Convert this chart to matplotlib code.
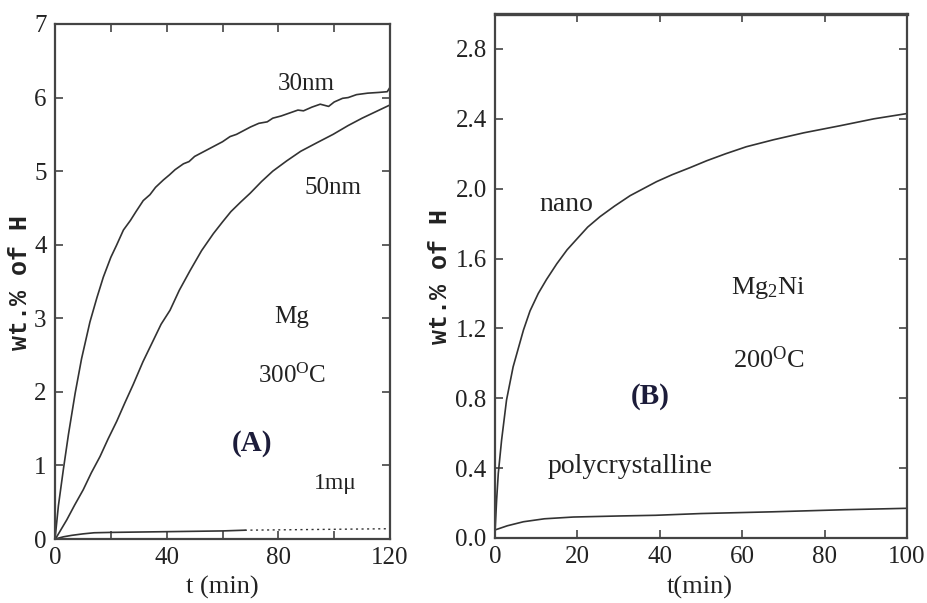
import matplotlib
matplotlib.use("Agg")
import matplotlib.pyplot as plt

plt.rcParams['font.family'] = 'Liberation Serif'
plt.rcParams['mathtext.fontset'] = 'custom'
plt.rcParams['mathtext.rm'] = 'Liberation Serif'
plt.rcParams['mathtext.it'] = 'Liberation Serif:italic'

# panel A: Mg at 300 C
t_30nm = [0, 1.2, 3, 4.8, 7.2, 9.5, 12.5, 15, 17.3, 20, 22, 24.5, 27, 29, 31.6, 34, 36, 38.8,
          41, 43, 46, 48, 50, 53, 55, 58, 60, 62.7, 65, 68, 70, 73, 76, 78, 81, 84, 87, 89,
          92, 95, 98, 100, 103, 105, 108, 112, 116, 119, 120]
wt_30nm = [0, 0.45, 0.95, 1.42, 1.98, 2.45, 2.95, 3.28, 3.56, 3.83, 3.99, 4.2, 4.33, 4.45, 4.6,
           4.68, 4.78, 4.88, 4.95, 5.02, 5.1, 5.13, 5.2, 5.26, 5.3, 5.36, 5.4, 5.47, 5.5, 5.56,
           5.6, 5.65, 5.67, 5.72, 5.75, 5.79, 5.83, 5.82, 5.87, 5.91, 5.88, 5.94, 5.99, 6.0,
           6.04, 6.06, 6.07, 6.08, 6.14]
t_50nm = [0, 0.6, 4.2, 7, 10.1, 13, 16.1, 19, 22.1, 25, 28, 31.5, 35.2, 38, 41.2, 44.5, 48.4,
          52.5, 56.7, 60, 63, 66.5, 69.9, 74, 78, 83, 88, 94, 99.6, 105, 110, 115, 120]
wt_50nm = [0, 0.03, 0.26, 0.46, 0.67, 0.9, 1.12, 1.36, 1.6, 1.85, 2.1, 2.41, 2.7, 2.92, 3.11,
           3.38, 3.65, 3.92, 4.15, 4.31, 4.45, 4.58, 4.7, 4.86, 5.0, 5.14, 5.27, 5.39, 5.5,
           5.62, 5.72, 5.81, 5.9]
t_1mu = [0, 3, 6, 10, 14, 20, 30, 40, 50, 60, 68]
wt_1mu = [0, 0.03, 0.05, 0.07, 0.085, 0.09, 0.095, 0.1, 0.105, 0.11, 0.12]
t_1mu_dot = [68, 120]
wt_1mu_dot = [0.12, 0.14]

# panel B: Mg2Ni at 200 C
t_nano = [0, 0.4, 0.8, 1.6, 2.8, 4.4, 6.9, 8.5, 10.5, 12.5, 15, 17.5, 19.8, 22.5, 25.5, 29,
          32.8, 36, 39.2, 43, 47.3, 51.4, 56, 61, 67.6, 75, 83.7, 92, 100]
wt_nano = [0.03, 0.22, 0.37, 0.56, 0.79, 0.98, 1.19, 1.30, 1.40, 1.48, 1.57, 1.65, 1.71, 1.78,
           1.84, 1.90, 1.96, 2.00, 2.04, 2.08, 2.12, 2.16, 2.20, 2.24, 2.28, 2.32, 2.36, 2.40, 2.43]
t_poly = [0, 3, 6.9, 12, 19, 30, 39, 50, 67.5, 85, 100]
wt_poly = [0.046, 0.07, 0.093, 0.11, 0.12, 0.126, 0.13, 0.14, 0.15, 0.162, 0.17]

xticks_a = [0, 40, 80, 120]
yticks_a = [0, 1, 2, 3, 4, 5, 6, 7]
xticks_b = [0, 20, 40, 60, 80, 100]
yticks_b = [0.0, 0.4, 0.8, 1.2, 1.6, 2.0, 2.4, 2.8]

line_c = '#333333'
txt_c = '#222222'
lbl_c = '#1c1c3a'

fig = plt.figure(figsize=(9.28, 6.03), dpi=100)
ax1 = fig.add_axes([0.0593, 0.1061, 0.361, 0.8541])
ax2 = fig.add_axes([0.5334, 0.1078, 0.444, 0.869])

ax1.plot(t_30nm, wt_30nm, color=line_c, lw=1.2)
ax1.plot(t_50nm, wt_50nm, color=line_c, lw=1.2)
ax1.plot(t_1mu, wt_1mu, color=line_c, lw=1.2)
ax1.plot(t_1mu_dot, wt_1mu_dot, color=line_c, lw=1.0, ls=(0, (1.5, 2.5)))
ax1.set_xlim(0, 120)
ax1.set_ylim(0, 7)
ax1.set_xticks(range(0, 121, 20))
ax1.set_xticklabels([str(v) if v in xticks_a else '' for v in range(0, 121, 20)])
ax1.set_yticks(yticks_a)
ax1.set_yticklabels([str(v) for v in yticks_a])
ax1.tick_params(direction='in', length=6, width=1.2, color='#444444', top=True, right=True,
                labelsize=18, labelcolor=txt_c, pad=6)

ax1.text(90, 6.18, '30nm', fontsize=18, ha='center', va='center', color=txt_c)
ax1.text(99.6, 4.77, '50nm', fontsize=18, ha='center', va='center', color=txt_c)
ax1.text(84.9, 3.02, 'Mg', fontsize=18, ha='center', va='center', color=txt_c)
ax1.text(84.9, 2.22, '300$^{\\rm O}$C', fontsize=18, ha='center', va='center', color=txt_c)
ax1.text(70.6, 1.30, '(A)', fontsize=21, fontweight='bold', ha='center', va='center', color=lbl_c)
ax1.text(100.3, 0.76, '1m\u03bc', fontsize=17, ha='center', va='center', color=txt_c)

ax2.plot(t_nano, wt_nano, color=line_c, lw=1.2)
ax2.plot(t_poly, wt_poly, color=line_c, lw=1.2)
ax2.set_xlim(0, 100)
ax2.set_ylim(0, 3.0)
ax2.set_xticks(xticks_b)
ax2.set_xticklabels([str(v) for v in xticks_b])
ax2.set_yticks(yticks_b)
ax2.set_yticklabels(['%.1f' % v for v in yticks_b])
ax2.tick_params(direction='in', length=6, width=1.2, color='#444444', top=True, right=True,
                labelsize=18, labelcolor=txt_c, pad=6)

ax2.text(17.2, 1.91, 'nano', fontsize=20, ha='center', va='center', color=txt_c)
ax2.text(66.3, 1.43, 'Mg$_2$Ni', fontsize=19, ha='center', va='center', color=txt_c)
ax2.text(66.5, 1.02, '200$^{\\rm O}$C', fontsize=19, ha='center', va='center', color=txt_c)
ax2.text(37.6, 0.81, '(B)', fontsize=21, fontweight='bold', ha='center', va='center', color=lbl_c)
ax2.text(32.8, 0.41, 'polycrystalline', fontsize=20, ha='center', va='center', color=txt_c)

for ax in (ax1, ax2):
    for s in ax.spines.values():
        s.set_linewidth(1.6)
        s.set_color('#444444')
ax2.spines['top'].set_linewidth(2.4)

fig.text(20 / 928, 1 - 283 / 603, 'wt.% of H', rotation=90, family='Liberation Mono',
         fontweight='bold', fontsize=18, ha='center', va='center', color=txt_c)
fig.text(440 / 928, 1 - 276 / 603, 'wt.% of H', rotation=90, family='Liberation Mono',
         fontweight='bold', fontsize=18, ha='center', va='center', color=txt_c)
fig.text(222 / 928, 1 - 587 / 603, 't (min)', fontsize=19, ha='center', va='center', color=txt_c)
fig.text(700 / 928, 1 - 587 / 603, 't(min)', fontsize=19, ha='center', va='center', color=txt_c)

fig.savefig('out.png', dpi=100)
